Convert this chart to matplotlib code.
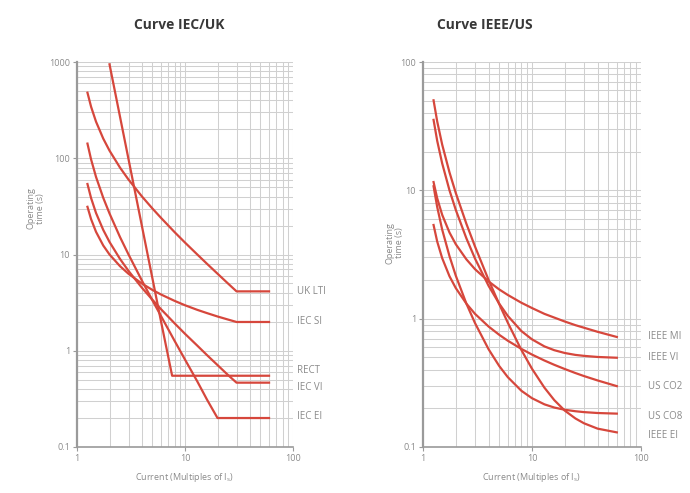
import matplotlib
matplotlib.use("Agg")
import matplotlib.pyplot as plt
from matplotlib.ticker import FixedLocator, NullFormatter

plt.rcParams['font.family'] = ['Open Sans', 'DejaVu Sans']
plt.rcParams['mathtext.default'] = 'regular'

# current in multiples of Is (shared points along the curves)
current = [1.25, 1.35, 1.5, 1.75, 2, 2.5, 3, 4, 5, 6, 8, 10, 13, 16, 20, 25, 30, 40, 60]

# ---- IEC / UK (operating time in s)
iec_si = [31.3, 23.3, 17.2, 12.4, 10.0, 7.57, 6.30, 4.98, 4.28, 3.84, 3.30, 2.97,
          2.66, 2.46, 2.27, 2.11, 1.99, 1.99, 1.99]
iec_vi = [54, 38.6, 27, 18, 13.5, 9.0, 6.75, 4.5, 3.38, 2.7, 1.93, 1.5,
          1.13, 0.90, 0.71, 0.56, 0.466, 0.466, 0.466]
iec_ei = [142, 97.3, 64, 38.8, 26.7, 15.2, 10.0, 5.33, 3.33, 2.29, 1.27, 0.81,
          0.48, 0.31, 0.2, 0.2, 0.2, 0.2, 0.2]
uk_lti = [480, 343, 240, 160, 120, 80, 60, 40, 30, 24, 17.1, 13.3,
          10.0, 8.0, 6.32, 5.0, 4.14, 4.14, 4.14]
rect_i = [2, 3, 4, 5, 6, 7.6, 60]
rect_t = [946, 97.6, 19.5, 5.6, 2.01, 0.55, 0.55]

# ---- IEEE / US
ieee_mi = [11.6, 8.67, 6.44, 4.69, 3.80, 2.90, 2.43, 1.95, 1.69, 1.53, 1.33, 1.21,
           1.09, 1.02, 0.95, 0.89, 0.85, 0.79, 0.72]
ieee_vi = [35.4, 24.3, 16.2, 10.0, 7.03, 4.23, 2.94, 1.80, 1.31, 1.05, 0.80, 0.69,
           0.608, 0.568, 0.540, 0.522, 0.513, 0.503, 0.496]
ieee_ei = [50.3, 34.4, 22.7, 13.8, 9.52, 5.49, 3.65, 2.00, 1.30, 0.93, 0.569, 0.407,
           0.290, 0.232, 0.192, 0.167, 0.153, 0.139, 0.130]
us_co8 = [10.76, 7.41, 4.94, 3.07, 2.16, 1.31, 0.924, 0.577, 0.428, 0.350, 0.274, 0.240,
          0.215, 0.203, 0.195, 0.190, 0.187, 0.184, 0.182]
us_co2 = [5.37, 3.99, 2.96, 2.14, 1.73, 1.31, 1.09, 0.868, 0.749, 0.673, 0.581, 0.525,
          0.472, 0.437, 0.405, 0.377, 0.357, 0.330, 0.298]

left_names = ['UK LTI', 'IEC SI', 'RECT', 'IEC VI', 'IEC EI']
left_label_y = [4.1, 1.99, 0.63, 0.42, 0.205]
right_names = ['IEEE MI', 'IEEE VI', 'US CO2', 'US CO8', 'IEEE EI']
right_label_y = [0.72, 0.496, 0.298, 0.174, 0.124]

red = '#d6473c'
grey = '#8a8a8a'
W, H = 690, 493

fig = plt.figure(figsize=(6.9, 4.93), dpi=100)
axL = fig.add_axes([77 / W, (H - 447) / H, 216 / W, 385 / H])
axR = fig.add_axes([423 / W, (H - 447) / H, 218 / W, 385 / H])


def style(ax, ymin, ymax, yticks):
    ax.set_xscale('log')
    ax.set_yscale('log')
    ax.set_xlim(1, 100)
    ax.set_ylim(ymin, ymax)
    ax.xaxis.set_major_locator(FixedLocator([1, 10, 100]))
    ax.set_xticklabels(['1', '10', '100'])
    ax.yaxis.set_major_locator(FixedLocator(yticks))
    ax.set_yticklabels([('%g' % v) for v in yticks])
    minors = [m * 10.0 ** e for e in range(-2, 4) for m in range(2, 10)]
    ax.xaxis.set_minor_locator(FixedLocator(minors))
    ax.yaxis.set_minor_locator(FixedLocator(minors))
    ax.xaxis.set_minor_formatter(NullFormatter())
    ax.yaxis.set_minor_formatter(NullFormatter())
    ax.grid(True, which='both', color='#d0d0d0', linewidth=0.75)
    ax.set_axisbelow(True)
    for s in ['top', 'right']:
        ax.spines[s].set_visible(False)
    ax.spines['left'].set_color('#9a9a9a')
    ax.spines['left'].set_linewidth(1.6)
    ax.spines['bottom'].set_color('#9a9a9a')
    ax.spines['bottom'].set_linewidth(1.2)
    ax.tick_params(which='major', length=3, width=0.8, color='#9a9a9a',
                   labelsize=6.5, labelcolor=grey, pad=2)
    ax.tick_params(which='minor', length=0)
    ax.set_xlabel('Current (Multiples of I$_s$)', fontsize=6.5, color=grey, labelpad=6)


style(axL, 0.1, 1000, [0.1, 1, 10, 100, 1000])
style(axR, 0.1, 100, [0.1, 1, 10, 100])

for t in [uk_lti, iec_si, iec_vi, iec_ei]:
    axL.plot(current, t, color=red, lw=1.6)
axL.plot(rect_i, rect_t, color=red, lw=1.6)

for t in [ieee_mi, ieee_vi, us_co2, us_co8, ieee_ei]:
    axR.plot(current, t, color=red, lw=1.6)

for name, y in zip(left_names, left_label_y):
    axL.text(1.02, y, name, transform=axL.get_yaxis_transform(), fontsize=7,
             color=grey, va='center', ha='left', clip_on=False)
for name, y in zip(right_names, right_label_y):
    axR.text(1.03, y, name, transform=axR.get_yaxis_transform(), fontsize=7,
             color=grey, va='center', ha='left', clip_on=False)

axL.text(-0.19, 0.62, 'Operating\ntime (s)', transform=axL.transAxes, rotation=90,
         fontsize=6.5, color=grey, ha='center', va='center', linespacing=1.0)
axR.text(-0.13, 0.53, 'Operating\ntime (s)', transform=axR.transAxes, rotation=90,
         fontsize=6.5, color=grey, ha='center', va='center', linespacing=1.0)

fig.text(134 / W, 1 - 25 / H, 'Curve IEC/UK', fontsize=10, fontweight='bold',
         color='#383838', ha='left', va='center')
fig.text(437 / W, 1 - 25 / H, 'Curve IEEE/US', fontsize=10, fontweight='bold',
         color='#383838', ha='left', va='center')

fig.savefig('out.png', dpi=100)
